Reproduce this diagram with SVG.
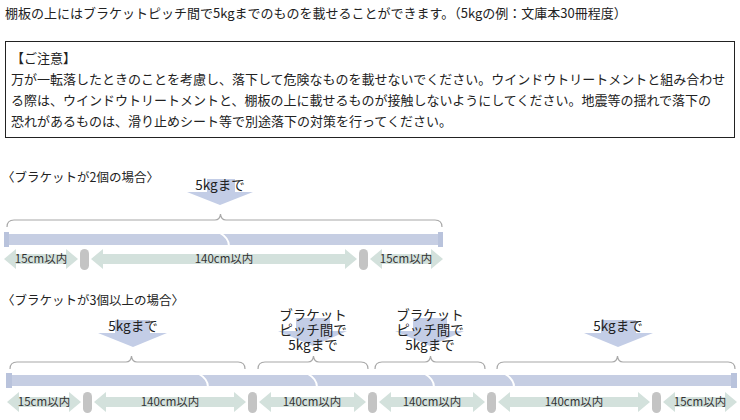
<svg xmlns="http://www.w3.org/2000/svg" width="740" height="420" viewBox="0 0 740 420">
<defs>
<style>
text{font-family:"Noto Sans CJK JP","Noto Sans",sans-serif;fill:#222}
.main{font-size:13px}
.ttl{font-size:12.5px}
.lbl{font-size:13.5px;text-anchor:middle}
.dim{font-size:11.5px;text-anchor:middle;fill:#333}
.bar{fill:#c6cee3}
.cap{fill:#b9c3dc}
.brk{fill:none;stroke:#fff;stroke-width:2}
.brace{fill:none;stroke:#a8a8a8;stroke-width:1.2}
.darr{fill:#d3e1dc}
.pill{fill:#c4c4c4}
.load{fill:#c3cde6}
</style>
</defs>
<g id="intro">
<text class="main" x="5" y="18">棚板の上にはブラケットピッチ間で5kgまでのものを載せることができます。（5kgの例：文庫本30冊程度）</text>
</g>
<g id="notice">
<rect x="5.5" y="41.5" width="729" height="96" fill="#fff" stroke="#222" stroke-width="1"/>
<text class="main" x="11" y="63">【ご注意】</text>
<text class="main" x="11" y="84">万が一転落したときのことを考慮し、落下して危険なものを載せないでください。ウインドウトリートメントと組み合わせ</text>
<text class="main" x="11" y="105">る際は、ウインドウトリートメントと、棚板の上に載せるものが接触しないようにしてください。地震等の揺れで落下の</text>
<text class="main" x="11" y="126">恐れがあるものは、滑り止めシート等で別途落下の対策を行ってください。</text>
</g>
<g id="case2">
<text class="ttl" x="2" y="182">〈ブラケットが2個の場合〉</text>
<g id="load1">
<rect class="load" x="207" y="179" width="28" height="14"/>
<polygon class="load" points="187,192 253,192 220,205"/>
<text class="lbl" x="220" y="190">5kgまで</text>
</g>
<path class="brace" d="M7,227 Q7,220 14,220 L215,220 Q220,220 220.5,214 Q221,220 226,220 L435,220 Q442,220 442,227"/>
<g id="shelf1">
<rect class="bar" x="4" y="234" width="439" height="11"/>
<rect class="cap" x="4" y="232" width="5" height="15"/>
<rect class="cap" x="438" y="232" width="5" height="15"/>
<path class="brk" d="M220,233 Q229,238 229,246"/>
</g>
<g id="dims1">
<polygon class="darr" points="4,259 16,249 16,254 66,254 66,249 78,259 66,269 66,264 16,264 16,269"/>
<polygon class="darr" points="91,259 103,249 103,254 345,254 345,249 357,259 345,269 345,264 103,264 103,269"/>
<polygon class="darr" points="370,259 382,249 382,254 431,254 431,249 443,259 431,269 431,264 382,264 382,269"/>
<rect class="pill" x="80" y="249" width="9" height="21" rx="4.5"/>
<rect class="pill" x="359" y="249" width="9" height="21" rx="4.5"/>
<text class="dim" x="41" y="263">15cm以内</text>
<text class="dim" x="224" y="263">140cm以内</text>
<text class="dim" x="406" y="263">15cm以内</text>
</g>
</g>
<g id="case3">
<text class="ttl" x="2" y="305">〈ブラケットが3個以上の場合〉</text>
<g id="load2">
<rect class="load" x="115" y="320" width="35" height="14"/>
<polygon class="load" points="98,333 167,333 133,347"/>
<text class="lbl" x="133" y="331">5kgまで</text>
</g>
<g id="load3">
<rect class="load" x="296" y="318" width="34" height="14"/>
<polygon class="load" points="278,331 347,331 313,346"/>
<text class="lbl" x="313" y="320">ブラケット<tspan x="313" dy="15">ピッチ間で</tspan><tspan x="313" dy="15">5kgまで</tspan></text>
</g>
<g id="load4">
<rect class="load" x="413" y="318" width="34" height="14"/>
<polygon class="load" points="395,331 464,331 430,346"/>
<text class="lbl" x="430" y="320">ブラケット<tspan x="430" dy="15">ピッチ間で</tspan><tspan x="430" dy="15">5kgまで</tspan></text>
</g>
<g id="load5">
<rect class="load" x="601" y="320" width="35" height="14"/>
<polygon class="load" points="584,333 653,333 618,347"/>
<text class="lbl" x="618" y="331">5kgまで</text>
</g>
<path class="brace" d="M10,369 Q10,362 17,362 L126,362 Q131,362 131.5,356 Q132,362 137,362 L238,362 Q245,362 245,369"/>
<path class="brace" d="M258,369 Q258,362 265,362 L308,362 Q313,362 313.5,356 Q314,362 319,362 L361,362 Q368,362 368,369"/>
<path class="brace" d="M375,369 Q375,362 382,362 L425,362 Q430,362 430.5,356 Q431,362 436,362 L478,362 Q485,362 485,369"/>
<path class="brace" d="M497,369 Q497,362 504,362 L612,362 Q617,362 617.5,356 Q618,362 623,362 L728,362 Q735,362 735,369"/>
<g id="shelf2">
<rect class="bar" x="6" y="375" width="731" height="11"/>
<rect class="cap" x="6" y="373" width="6" height="15"/>
<rect class="cap" x="731" y="373" width="6" height="15"/>
<path class="brk" d="M199,374 Q208,379 208,387"/>
<path class="brk" d="M308,374 Q317,379 317,387"/>
<path class="brk" d="M425,374 Q434,379 434,387"/>
<path class="brk" d="M505,374 Q514,379 514,387"/>
</g>
<g id="dims2">
<polygon class="darr" points="7,402 19,392 19,397 69,397 69,392 81,402 69,412 69,407 19,407 19,412"/>
<polygon class="darr" points="94,402 106,392 106,397 234,397 234,392 246,402 234,412 234,407 106,407 106,412"/>
<polygon class="darr" points="259,402 271,392 271,397 354,397 354,392 366,402 354,412 354,407 271,407 271,412"/>
<polygon class="darr" points="379,402 391,392 391,397 473,397 473,392 485,402 473,412 473,407 391,407 391,412"/>
<polygon class="darr" points="498,402 510,392 510,397 638,397 638,392 650,402 638,412 638,407 510,407 510,412"/>
<polygon class="darr" points="663,402 675,392 675,397 725,397 725,392 737,402 725,412 725,407 675,407 675,412"/>
<rect class="pill" x="83" y="392" width="9" height="21" rx="4.5"/>
<rect class="pill" x="248" y="392" width="9" height="21" rx="4.5"/>
<rect class="pill" x="368" y="392" width="9" height="21" rx="4.5"/>
<rect class="pill" x="487" y="392" width="9" height="21" rx="4.5"/>
<rect class="pill" x="652" y="392" width="9" height="21" rx="4.5"/>
<text class="dim" x="44" y="406">15cm以内</text>
<text class="dim" x="170" y="406">140cm以内</text>
<text class="dim" x="312" y="406">140cm以内</text>
<text class="dim" x="432" y="406">140cm以内</text>
<text class="dim" x="574" y="406">140cm以内</text>
<text class="dim" x="700" y="406">15cm以内</text>
</g>
</g>
</svg>
